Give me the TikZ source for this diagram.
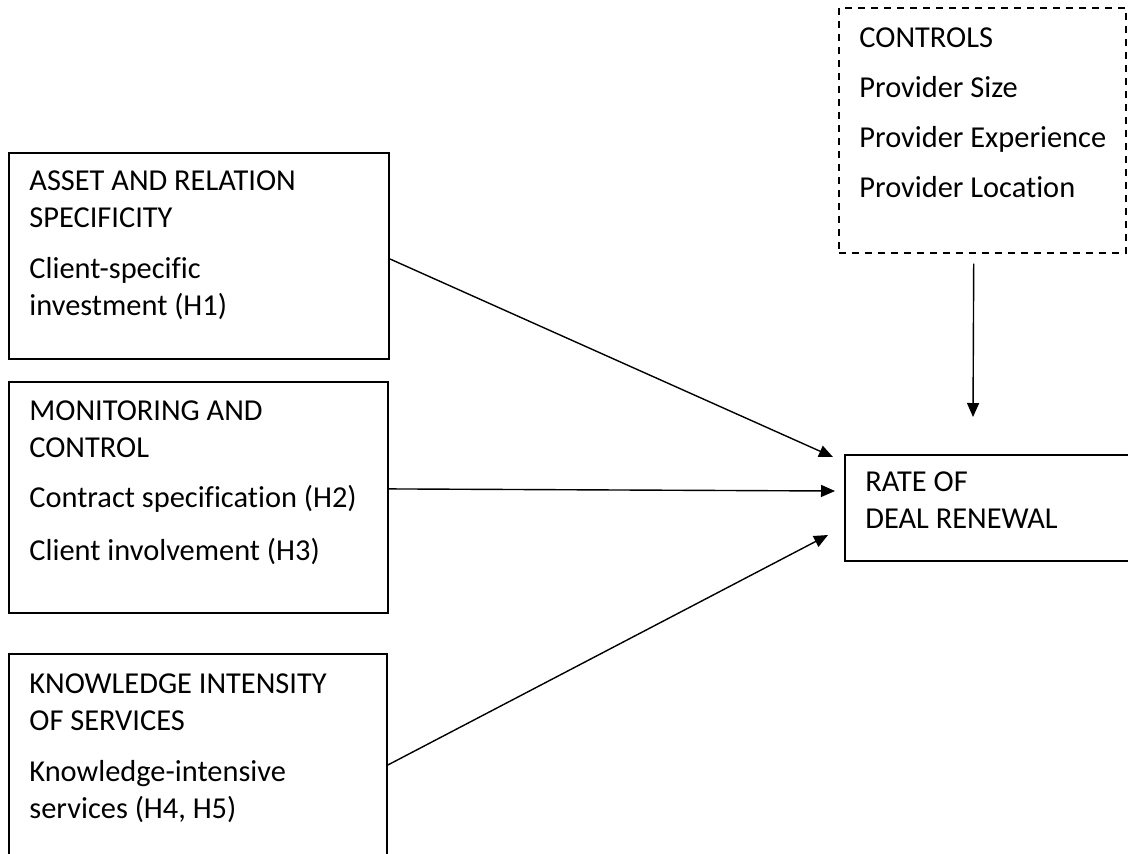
\documentclass[tikz,border=0pt]{standalone}
\usepackage{fontspec}
\setmainfont{Carlito}[Ligatures=CommonOff]
\usetikzlibrary{arrows.meta}

\begin{document}
\begin{tikzpicture}[x=0.5pt, y=-0.5pt, font=\fontsize{15.2}{18.5}\selectfont, -{Triangle[length=7pt,width=6pt]}]
	\useasboundingbox (0,0) rectangle (1128,853);
	\tikzset{box/.style={draw, line width=0.9pt, anchor=north west, inner sep=0pt, -},
	         txt/.style={anchor=base west, align=left, inner sep=0pt},
	         arr/.style={line width=0.7pt}}
	% factor boxes on the left
	\node (asset) [box, minimum width=190pt, minimum height=103pt] at (8,152) {};
	\node (monitor) [box, minimum width=189.5pt, minimum height=115.5pt] at (8,381) {};
	\node (knowledge) [box, minimum width=189pt, minimum height=120pt] at (8,653) {};
	% text nodes sit on the baseline of their last line
	\node (assettxt) [txt] at (29,315) {ASSET AND RELATION\\SPECIFICITY\\[7pt]Client-specific\\investment (H1)};
	\node (monitortxt) [txt] at (29,560) {MONITORING AND\\CONTROL\\[6.5pt]Contract specification (H2)\\[8pt]Client involvement (H3)};
	\node (knowledgetxt) [txt] at (29,818) {KNOWLEDGE INTENSITY\\OF SERVICES\\[7pt]Knowledge-intensive\\services (H4, H5)};
	% controls and outcome
	\node (controls) [box, dash pattern=on 3.5pt off 3pt, line width=0.75pt, minimum width=143.5pt, minimum height=122.5pt] at (838,7) {};
	\node (controlstxt) [txt] at (859,197) {CONTROLS\\[6.5pt]Provider Size\\[6.5pt]Provider Experience\\[6.5pt]Provider Location};
	\node (rate) [box, minimum width=150pt, minimum height=53pt] at (844,454) {};
	\node (ratetxt) [txt] at (865,528) {RATE OF\\DEAL RENEWAL};
	\coordinate (r1) at (833,457);
	\coordinate (r2) at (835,491);
	\coordinate (r3) at (828,535);
	\coordinate (r4) at (973,417);
	\draw[arr] ([yshift=-1.5pt]asset.east) -- (r1);
	\draw[arr] ([yshift=4.25pt]monitor.east) -- (r2);
	\draw[arr] ([yshift=-56pt]knowledge.north east) -- (r3);
	\draw[arr, shorten <=5pt] ([xshift=-4.25pt]controls.south) -- (r4);
\end{tikzpicture}
\end{document}
